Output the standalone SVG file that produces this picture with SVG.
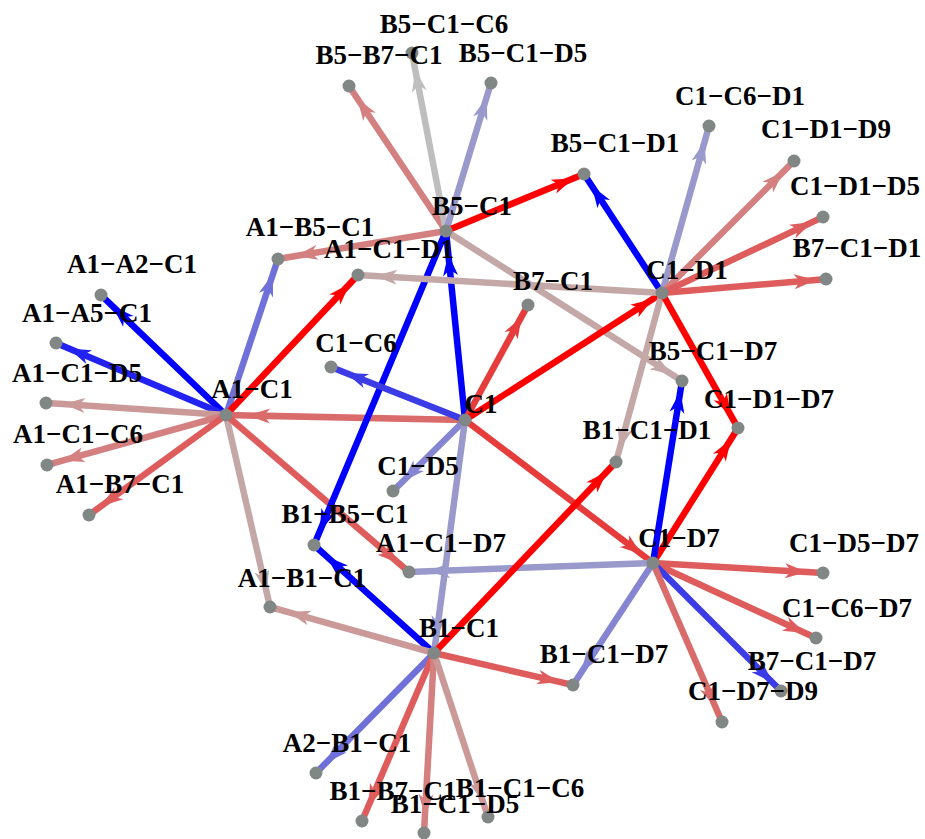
<svg xmlns="http://www.w3.org/2000/svg" width="925" height="839" viewBox="0 0 925 839">
<style>
.e{fill:none;stroke-width:6.5;stroke-linecap:butt}
.r0{stroke:#ff0000;marker-mid:url(#m-r0)}
.r1{stroke:#e63c3c;marker-mid:url(#m-r1)}
.r2{stroke:#de5c5c;marker-mid:url(#m-r2)}
.r3{stroke:#d96b6b;marker-mid:url(#m-r3)}
.r4{stroke:#d48080;marker-mid:url(#m-r4)}
.r5{stroke:#cc9999;marker-mid:url(#m-r5)}
.g0{stroke:#c4a8a8;marker-mid:url(#m-g0)}
.g1{stroke:#bebebe;marker-mid:url(#m-g1)}
.b5{stroke:#9999cc;marker-mid:url(#m-b5)}
.b4{stroke:#8585d1;marker-mid:url(#m-b4)}
.b3{stroke:#7070d9;marker-mid:url(#m-b3)}
.b1{stroke:#3c3ce6;marker-mid:url(#m-b1)}
.b0a{stroke:#2222f2;marker-mid:url(#m-b0a)}
.b0{stroke:#0000ff;marker-mid:url(#m-b0)}
.n{fill:#808784}
.lb{font-family:"Liberation Serif","Times New Roman",serif;font-weight:bold;font-size:27px;text-anchor:middle;fill:#000}
</style>
<defs>
<path id="ah" d="M0,0 L-22,-7.5 L-16,0 L-22,7.5 Z"/>
<marker id="m-r0" markerUnits="userSpaceOnUse" orient="auto" overflow="visible" markerWidth="1" markerHeight="1"><use href="#ah" fill="#ff0000"/></marker>
<marker id="m-r1" markerUnits="userSpaceOnUse" orient="auto" overflow="visible" markerWidth="1" markerHeight="1"><use href="#ah" fill="#e63c3c"/></marker>
<marker id="m-r2" markerUnits="userSpaceOnUse" orient="auto" overflow="visible" markerWidth="1" markerHeight="1"><use href="#ah" fill="#de5c5c"/></marker>
<marker id="m-r3" markerUnits="userSpaceOnUse" orient="auto" overflow="visible" markerWidth="1" markerHeight="1"><use href="#ah" fill="#d96b6b"/></marker>
<marker id="m-r4" markerUnits="userSpaceOnUse" orient="auto" overflow="visible" markerWidth="1" markerHeight="1"><use href="#ah" fill="#d48080"/></marker>
<marker id="m-r5" markerUnits="userSpaceOnUse" orient="auto" overflow="visible" markerWidth="1" markerHeight="1"><use href="#ah" fill="#cc9999"/></marker>
<marker id="m-g0" markerUnits="userSpaceOnUse" orient="auto" overflow="visible" markerWidth="1" markerHeight="1"><use href="#ah" fill="#c4a8a8"/></marker>
<marker id="m-g1" markerUnits="userSpaceOnUse" orient="auto" overflow="visible" markerWidth="1" markerHeight="1"><use href="#ah" fill="#bebebe"/></marker>
<marker id="m-b5" markerUnits="userSpaceOnUse" orient="auto" overflow="visible" markerWidth="1" markerHeight="1"><use href="#ah" fill="#9999cc"/></marker>
<marker id="m-b4" markerUnits="userSpaceOnUse" orient="auto" overflow="visible" markerWidth="1" markerHeight="1"><use href="#ah" fill="#8585d1"/></marker>
<marker id="m-b3" markerUnits="userSpaceOnUse" orient="auto" overflow="visible" markerWidth="1" markerHeight="1"><use href="#ah" fill="#7070d9"/></marker>
<marker id="m-b1" markerUnits="userSpaceOnUse" orient="auto" overflow="visible" markerWidth="1" markerHeight="1"><use href="#ah" fill="#3c3ce6"/></marker>
<marker id="m-b0a" markerUnits="userSpaceOnUse" orient="auto" overflow="visible" markerWidth="1" markerHeight="1"><use href="#ah" fill="#2222f2"/></marker>
<marker id="m-b0" markerUnits="userSpaceOnUse" orient="auto" overflow="visible" markerWidth="1" markerHeight="1"><use href="#ah" fill="#0000ff"/></marker>
</defs>
<rect width="925" height="839" fill="#ffffff"/>
<g id="connectors">
<path class="e b0" d="M226 415L112.5 306.1L101 295"/>
<path class="e b0a" d="M226 415L68.9 348.5L56 343"/>
<path class="e r5" d="M226 415L63 404.1L46 403"/>
<path class="e r4" d="M226 415L62.4 460.7L47 465"/>
<path class="e r2" d="M226 415L101.1 506.2L89 515"/>
<path class="e b3" d="M226 415L272.9 274.2L278 259"/>
<path class="e r0" d="M226 415L349.8 283.7L358 275"/>
<path class="e r3" d="M465 420L248 415.5L226 415"/>
<path class="e g0" d="M226 415L266.7 592.4L270 607"/>
<path class="e r2" d="M226 415L399.1 563.5L409 572"/>
<path class="e r4" d="M446 231L357.3 98.5L349 86"/>
<path class="e g1" d="M446 231L415.2 69.7L412 53"/>
<path class="e b5" d="M446 231L486.6 97.4L491 83"/>
<path class="e r4" d="M446 231L295.7 256L278 259"/>
<path class="e r0" d="M446 231L573.8 178.2L584 174"/>
<path class="e g0" d="M446 231L671.9 374.6L682 381"/>
<path class="e b0" d="M465 420L448.3 253.9L446 231"/>
<path class="e b0" d="M446 231L319.8 531.2L314 545"/>
<path class="e b0" d="M434 653L326.6 556.4L314 545"/>
<path class="e b1" d="M465 420L345.9 372.9L331 367"/>
<path class="e b4" d="M465 420L403 481.2L393 491"/>
<path class="e r1" d="M465 420L521.7 316.4L528 305"/>
<path class="e r0" d="M465 420L652.8 299L662 293"/>
<path class="e r1" d="M465 420L641.9 554.5L653 563"/>
<path class="e b5" d="M465 420L436 638.1L434 653"/>
<path class="e b0" d="M662 293L591.7 185.7L584 174"/>
<path class="e b5" d="M662 293L704.7 141.4L709 126"/>
<path class="e r4" d="M662 293L783.4 171.6L794 161"/>
<path class="e r2" d="M662 293L812.2 222.1L823 217"/>
<path class="e r2" d="M662 293L816 279.9L826 279"/>
<path class="e g0" d="M662 293L375 276L358 275"/>
<path class="e g0" d="M662 293L619.4 449.5L616 462"/>
<path class="e r0" d="M662 293L731.1 415.8L738 428"/>
<path class="e r0" d="M653 563L731.1 439L738 428"/>
<path class="e b0" d="M653 563L680.4 390.9L682 381"/>
<path class="e b5" d="M653 563L428 571.3L409 572"/>
<path class="e r2" d="M653 563L807 572.1L823 573"/>
<path class="e r2" d="M653 563L805.1 633L816 638"/>
<path class="e b1" d="M653 563L772.5 682.5L781 691"/>
<path class="e r3" d="M653 563L715.6 707.3L722 722"/>
<path class="e b4" d="M653 563L581.2 672.5L573 685"/>
<path class="e r0" d="M434 653L607 471.4L616 462"/>
<path class="e r2" d="M434 653L559.4 681.9L573 685"/>
<path class="e r5" d="M434 653L288.3 612.1L270 607"/>
<path class="e b3" d="M434 653L325.8 763L316 773"/>
<path class="e r2" d="M434 653L368.3 806.3L362 821"/>
<path class="e r4" d="M434 653L424.9 816L424 833"/>
<path class="e r5" d="M434 653L483 801.8L488 817"/>
</g>
<g id="node-B5-C1-C6"><circle class="n" cx="412" cy="53" r="6.5"/><text class="lb" x="444" y="33">B5−C1−C6</text></g>
<g id="node-B5-B7-C1"><circle class="n" cx="349" cy="86" r="6.5"/><text class="lb" x="379" y="64">B5−B7−C1</text></g>
<g id="node-B5-C1-D5"><circle class="n" cx="491" cy="83" r="6.5"/><text class="lb" x="523" y="62">B5−C1−D5</text></g>
<g id="node-B5-C1"><circle class="n" cx="446" cy="231" r="6.5"/><text class="lb" x="472" y="215">B5−C1</text></g>
<g id="node-A1-B5-C1"><circle class="n" cx="278" cy="259" r="6.5"/><text class="lb" x="310" y="236">A1−B5−C1</text></g>
<g id="node-A1-C1-D1"><circle class="n" cx="358" cy="275" r="6.5"/><text class="lb" x="389" y="258">A1−C1−D1</text></g>
<g id="node-B7-C1"><circle class="n" cx="528" cy="305" r="6.5"/><text class="lb" x="553" y="290">B7−C1</text></g>
<g id="node-C1-D1"><circle class="n" cx="662" cy="293" r="6.5"/><text class="lb" x="687" y="279">C1−D1</text></g>
<g id="node-B5-C1-D1"><circle class="n" cx="584" cy="174" r="6.5"/><text class="lb" x="615" y="152">B5−C1−D1</text></g>
<g id="node-C1-C6-D1"><circle class="n" cx="709" cy="126" r="6.5"/><text class="lb" x="740" y="105">C1−C6−D1</text></g>
<g id="node-C1-D1-D9"><circle class="n" cx="794" cy="161" r="6.5"/><text class="lb" x="826" y="138">C1−D1−D9</text></g>
<g id="node-C1-D1-D5"><circle class="n" cx="823" cy="217" r="6.5"/><text class="lb" x="855" y="195">C1−D1−D5</text></g>
<g id="node-B7-C1-D1"><circle class="n" cx="826" cy="279" r="6.5"/><text class="lb" x="857" y="257">B7−C1−D1</text></g>
<g id="node-A1-A2-C1"><circle class="n" cx="101" cy="295" r="6.5"/><text class="lb" x="132" y="273">A1−A2−C1</text></g>
<g id="node-A1-A5-C1"><circle class="n" cx="56" cy="343" r="6.5"/><text class="lb" x="87" y="322">A1−A5−C1</text></g>
<g id="node-A1-C1-D5"><circle class="n" cx="46" cy="403" r="6.5"/><text class="lb" x="77" y="382">A1−C1−D5</text></g>
<g id="node-A1-C1"><circle class="n" cx="226" cy="415" r="6.5"/><text class="lb" x="252" y="398">A1−C1</text></g>
<g id="node-A1-C1-C6"><circle class="n" cx="47" cy="465" r="6.5"/><text class="lb" x="78" y="443">A1−C1−C6</text></g>
<g id="node-A1-B7-C1"><circle class="n" cx="89" cy="515" r="6.5"/><text class="lb" x="120" y="493">A1−B7−C1</text></g>
<g id="node-C1-C6"><circle class="n" cx="331" cy="367" r="6.5"/><text class="lb" x="356" y="352">C1−C6</text></g>
<g id="node-C1"><circle class="n" cx="465" cy="420" r="6.5"/><text class="lb" x="481" y="413">C1</text></g>
<g id="node-C1-D5"><circle class="n" cx="393" cy="491" r="6.5"/><text class="lb" x="418" y="475">C1−D5</text></g>
<g id="node-B5-C1-D7"><circle class="n" cx="682" cy="381" r="6.5"/><text class="lb" x="713" y="360">B5−C1−D7</text></g>
<g id="node-C1-D1-D7"><circle class="n" cx="738" cy="428" r="6.5"/><text class="lb" x="769" y="408">C1−D1−D7</text></g>
<g id="node-B1-C1-D1"><circle class="n" cx="616" cy="462" r="6.5"/><text class="lb" x="647" y="439">B1−C1−D1</text></g>
<g id="node-C1-D7"><circle class="n" cx="653" cy="563" r="6.5"/><text class="lb" x="679" y="547">C1−D7</text></g>
<g id="node-C1-D5-D7"><circle class="n" cx="823" cy="573" r="6.5"/><text class="lb" x="854" y="552">C1−D5−D7</text></g>
<g id="node-C1-C6-D7"><circle class="n" cx="816" cy="638" r="6.5"/><text class="lb" x="847" y="617">C1−C6−D7</text></g>
<g id="node-B7-C1-D7"><circle class="n" cx="781" cy="691" r="6.5"/><text class="lb" x="812" y="670">B7−C1−D7</text></g>
<g id="node-C1-D7-D9"><circle class="n" cx="722" cy="722" r="6.5"/><text class="lb" x="753" y="700">C1−D7−D9</text></g>
<g id="node-B1-C1-D7"><circle class="n" cx="573" cy="685" r="6.5"/><text class="lb" x="604" y="663">B1−C1−D7</text></g>
<g id="node-B1-B5-C1"><circle class="n" cx="314" cy="545" r="6.5"/><text class="lb" x="345" y="523">B1−B5−C1</text></g>
<g id="node-A1-C1-D7"><circle class="n" cx="409" cy="572" r="6.5"/><text class="lb" x="441" y="552">A1−C1−D7</text></g>
<g id="node-A1-B1-C1"><circle class="n" cx="270" cy="607" r="6.5"/><text class="lb" x="302" y="587">A1−B1−C1</text></g>
<g id="node-B1-C1"><circle class="n" cx="434" cy="653" r="6.5"/><text class="lb" x="459" y="637">B1−C1</text></g>
<g id="node-A2-B1-C1"><circle class="n" cx="316" cy="773" r="6.5"/><text class="lb" x="347" y="752">A2−B1−C1</text></g>
<g id="node-B1-C1-C6"><circle class="n" cx="488" cy="817" r="6.5"/><text class="lb" x="520" y="797">B1−C1−C6</text></g>
<g id="node-B1-B7-C1"><circle class="n" cx="362" cy="821" r="6.5"/><text class="lb" x="393" y="800">B1−B7−C1</text></g>
<g id="node-B1-C1-D5"><circle class="n" cx="424" cy="833" r="6.5"/><text class="lb" x="455" y="813">B1−C1−D5</text></g>
</svg>
